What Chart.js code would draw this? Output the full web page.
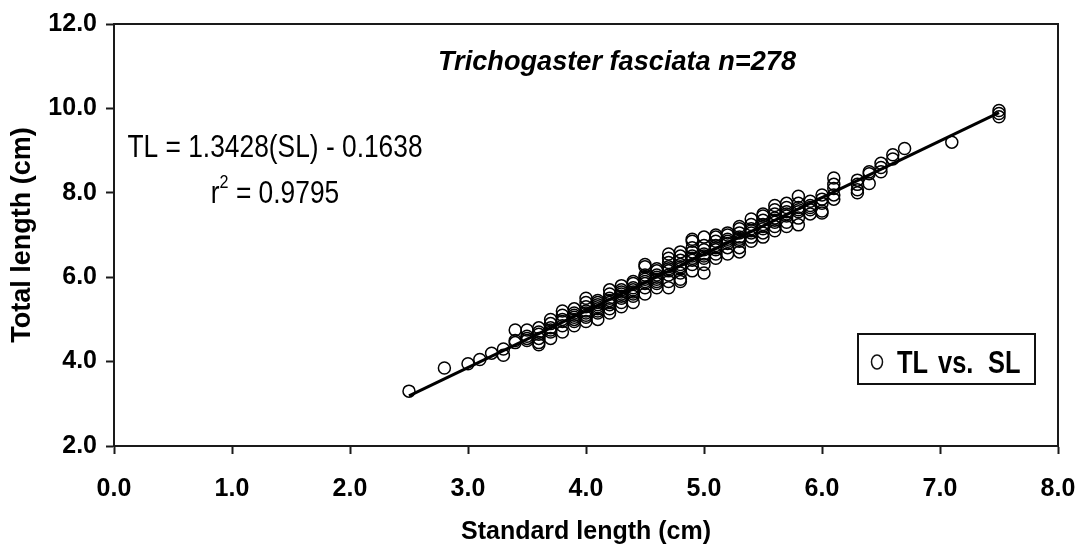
<!DOCTYPE html>
<html lang="en">
<head>
    <meta charset="UTF-8">
    <title>Trichogaster fasciata TL vs SL</title>
    <style>
        body {
            margin: 0;
            background: #ffffff;
        }
        .chart-box {
            width: 1079px;
            height: 550px;
        }
    </style>
</head>
<body>
    <div class="chart-box">
        <canvas id="tlChart"></canvas>
    </div>
    <script src="https://cdn.jsdelivr.net/npm/chart.js"></script>
    <script>
        // standard length classes (cm) and the total lengths read at each one
        const standardLength = [2.5, 2.8, 3.0, 3.1, 3.2, 3.3, 3.4, 3.5, 3.6, 3.7, 3.8, 3.9, 4.0, 4.1, 4.2, 4.3, 4.4, 4.5, 4.6, 4.7,
            4.8, 4.9, 5.0, 5.1, 5.2, 5.3, 5.4, 5.5, 5.6, 5.7, 5.8, 5.9, 6.0, 6.1, 6.3, 6.4, 6.5, 6.6, 6.7, 7.1, 7.5];
        const totalLength = [
            [3.3],
            [3.85],
            [3.95],
            [4.05],
            [4.2],
            [4.15, 4.3],
            [4.75, 4.45, 4.5],
            [4.75, 4.55, 4.6, 4.5],
            [4.45, 4.55, 4.65, 4.8, 4.7, 4.4],
            [4.55, 4.7, 4.8, 4.9, 5.0, 4.75],
            [4.7, 4.85, 4.95, 5.1, 5.2, 5.0],
            [4.85, 5.0, 5.05, 5.1, 5.25, 5.15, 4.95],
            [4.95, 5.05, 5.15, 5.2, 5.3, 5.4, 5.5, 5.1],
            [5.0, 5.15, 5.25, 5.35, 5.45, 5.3, 5.2, 5.4],
            [5.15, 5.25, 5.4, 5.5, 5.6, 5.7, 5.45, 5.35],
            [5.3, 5.4, 5.5, 5.6, 5.7, 5.65, 5.55, 5.8],
            [5.4, 5.55, 5.65, 5.75, 5.85, 5.7, 5.6, 5.9],
            [5.6, 5.75, 5.85, 5.95, 6.05, 6.25, 6.3, 5.9, 6.0],
            [5.75, 5.85, 5.95, 6.05, 6.15, 6.0, 6.2, 5.9],
            [5.75, 5.9, 6.05, 6.15, 6.25, 6.35, 6.45, 6.55, 6.2],
            [5.9, 5.95, 6.1, 6.2, 6.3, 6.4, 6.5, 6.6, 6.25],
            [6.15, 6.3, 6.4, 6.5, 6.6, 6.7, 6.85, 6.9, 6.45],
            [6.1, 6.3, 6.45, 6.55, 6.65, 6.75, 6.95, 6.5],
            [6.45, 6.55, 6.65, 6.75, 6.85, 6.95, 7.0, 6.7],
            [6.55, 6.7, 6.8, 6.9, 7.0, 7.05, 6.85],
            [6.6, 6.7, 6.85, 6.95, 7.05, 7.15, 7.2, 6.9],
            [6.85, 6.95, 7.05, 7.15, 7.25, 7.38, 7.1],
            [6.95, 7.05, 7.15, 7.25, 7.35, 7.45, 7.5, 7.2],
            [7.1, 7.2, 7.3, 7.4, 7.5, 7.6, 7.7, 7.35],
            [7.2, 7.3, 7.45, 7.55, 7.65, 7.75, 7.5],
            [7.24, 7.4, 7.55, 7.65, 7.75, 7.92, 7.6],
            [7.5, 7.6, 7.7, 7.8, 7.65],
            [7.52, 7.57, 7.85, 7.95, 7.75],
            [7.85, 7.95, 8.1, 8.2, 8.35],
            [8.0, 8.07, 8.2, 8.3],
            [8.22, 8.45, 8.5],
            [8.6, 8.7, 8.5],
            [8.8, 8.9],
            [9.05],
            [9.2],
            [9.8, 9.88, 9.95]
        ];

        // fitted line as drawn (end points)
        const fitLineSL = [2.5, 7.5];
        const fitLineTL = [3.19, 9.9];

        const xTickValues = [0, 1, 2, 3, 4, 5, 6, 7, 8];
        const yTickValues = [2, 4, 6, 8, 10, 12];

        const chartTitle = 'Trichogaster fasciata n=278';
        const equationText = 'TL = 1.3428(SL) - 0.1638';
        const rSquaredText = ' = 0.9795';
        const seriesLabel = 'TL vs. SL';

        const scatterPoints = [];
        standardLength.forEach((sl, i) => {
            totalLength[i].forEach(tl => scatterPoints.push({ x: sl, y: tl }));
        });
        const linePoints = fitLineSL.map((sl, i) => ({ x: sl, y: fitLineTL[i] }));

        const family = "'Liberation Sans', Arial, sans-serif";
        const tickFont = { family: family, size: 25, weight: 'bold' };

        // the text in the figure is squeezed sideways, so draw it condensed
        function condensedText(ctx, text, x, y, font, squeeze) {
            ctx.save();
            ctx.font = font;
            ctx.translate(x, y);
            ctx.scale(squeeze, 1);
            ctx.fillText(text, 0, 0);
            ctx.restore();
            ctx.font = font;
            return ctx.measureText(text).width * squeeze;
        }

        // box around the plot, title, equation and the legend
        const annotations = {
            id: 'annotations',
            afterDraw(chart) {
                const ctx = chart.ctx;
                const area = chart.chartArea;
                ctx.save();
                ctx.strokeStyle = '#1a1a1a';
                ctx.lineWidth = 2;
                ctx.strokeRect(area.left, area.top, area.right - area.left, area.bottom - area.top);

                ctx.fillStyle = '#000';
                ctx.textBaseline = 'alphabetic';
                ctx.textAlign = 'center';
                condensedText(ctx, chartTitle, 617, 70, 'italic bold 28px ' + family, 0.97);

                condensedText(ctx, equationText, 275, 157, '31px ' + family, 0.85);

                // r² line, centred under the equation
                const base = '31px ' + family;
                const sup = '19px ' + family;
                const squeeze = 0.85;
                ctx.font = base;
                const wR = ctx.measureText('r').width * squeeze;
                const wRest = ctx.measureText(rSquaredText).width * squeeze;
                ctx.font = sup;
                const wSup = ctx.measureText('2').width * squeeze;
                let x = 275 - (wR + wSup + wRest) / 2;
                ctx.textAlign = 'left';
                x += condensedText(ctx, 'r', x, 203, base, squeeze);
                x += condensedText(ctx, '2', x, 188, sup, squeeze);
                condensedText(ctx, rSquaredText, x, 203, base, squeeze);

                // legend
                ctx.lineWidth = 2;
                ctx.strokeStyle = '#111';
                ctx.strokeRect(858, 334, 177, 50);
                ctx.lineWidth = 1.5;
                ctx.beginPath();
                ctx.ellipse(877, 362, 5.5, 7, 0, 0, Math.PI * 2);
                ctx.stroke();
                const words = seriesLabel.split(' ');
                const wordX = [897, 938, 988];
                words.forEach((w, i) => condensedText(ctx, w, wordX[i], 373, 'bold 31px ' + family, 0.82));
                ctx.restore();
            }
        };

        const ctx = document.getElementById('tlChart').getContext('2d');
        new Chart(ctx, {
            type: 'scatter',
            data: {
                datasets: [
                    {
                        type: 'line',
                        label: 'fit',
                        data: linePoints,
                        borderColor: '#000',
                        borderWidth: 3,
                        pointRadius: 0,
                        fill: false,
                        order: 0
                    },
                    {
                        label: seriesLabel,
                        data: scatterPoints,
                        pointStyle: 'circle',
                        pointRadius: 6,
                        borderWidth: 1.5,
                        borderColor: '#000',
                        backgroundColor: 'rgba(0,0,0,0)',
                        order: 1
                    }
                ]
            },
            options: {
                responsive: true,
                maintainAspectRatio: false,
                animation: false,
                layout: { padding: { top: 22, right: 21, left: 0, bottom: 0 } },
                plugins: {
                    legend: { display: false },
                    tooltip: { enabled: false }
                },
                scales: {
                    x: {
                        type: 'linear',
                        min: 0,
                        max: 8,
                        afterBuildTicks: scale => { scale.ticks = xTickValues.map(v => ({ value: v })); },
                        afterFit: scale => {
                            scale.height = 104;
                            scale.paddingLeft = 0;
                            scale.paddingRight = 0;
                        },
                        grid: { drawOnChartArea: false, drawTicks: true, tickLength: 8, tickWidth: 2, tickColor: '#1a1a1a' },
                        border: { display: true, width: 2, color: '#1a1a1a' },
                        ticks: {
                            color: '#000',
                            font: tickFont,
                            padding: 20,
                            maxRotation: 0,
                            callback: v => Number(v).toFixed(1)
                        },
                        title: {
                            display: true,
                            text: 'Standard length (cm)',
                            color: '#000',
                            font: { family: family, size: 25, weight: 'bold' },
                            padding: { top: 0, bottom: 3 }
                        }
                    },
                    y: {
                        type: 'linear',
                        min: 2,
                        max: 12,
                        afterBuildTicks: scale => { scale.ticks = yTickValues.map(v => ({ value: v })); },
                        afterFit: scale => { scale.width = 114; },
                        grid: { drawOnChartArea: false, drawTicks: true, tickLength: 8, tickWidth: 2, tickColor: '#1a1a1a' },
                        border: { display: true, width: 2, color: '#1a1a1a' },
                        ticks: {
                            color: '#000',
                            font: tickFont,
                            padding: 9,
                            callback: v => Number(v).toFixed(1)
                        },
                        title: {
                            display: true,
                            text: 'Total length (cm)',
                            color: '#000',
                            font: { family: family, size: 27, weight: 'bold' },
                            padding: { top: 6, bottom: 0 }
                        }
                    }
                }
            },
            plugins: [annotations]
        });
    </script>
</body>
</html>
